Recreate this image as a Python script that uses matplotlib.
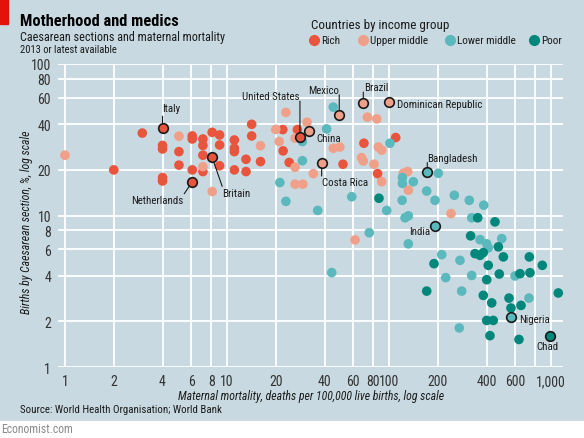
import matplotlib
matplotlib.use('Agg')
import matplotlib.pyplot as plt
from matplotlib import font_manager
from matplotlib.lines import Line2D
from matplotlib.patches import Rectangle
import numpy as np

# data: (maternal mortality per 100k births, caesarean %)
rich_x = [2, 3.0, 4, 4, 4, 4, 5.05, 5.05, 6.1, 6.1, 6.1, 7.1, 7.1, 7.1, 7.1, 8.1, 9.0, 9.0, 9.0,
          11.1, 11.1, 11.1, 11.1, 13.1, 13.1, 14.2, 14.2, 16.1, 22.1, 22.2, 24.2, 27.2, 52, 70, 85, 110]
rich_y = [20, 35, 29, 27.5, 17.8, 16.9, 26.4, 21.5, 33.5, 32, 20, 32, 29, 25, 19.5, 35.4, 34, 29.2, 21.3,
          31.5, 27.8, 26.4, 20, 23.5, 19.5, 40, 33.5, 22.7, 36.9, 26.7, 22.4, 36.9, 21.8, 30, 18.9, 32.7]

upper_x = [1.0, 5.05, 7.1, 8.1, 16.1, 20, 21, 23.1, 26.3, 26.3, 26.3, 29.4, 31.2, 34.1, 45.3, 49.7,
           61.7, 67.6, 69.4, 73.5, 80.8, 84, 85.9, 90.2, 90.2, 122.5, 130.4, 131.6, 241.5]
upper_y = [25, 33.4, 21, 14.4, 28.9, 37, 30.8, 47.9, 20.8, 32.4, 16.1, 16.1, 41.3, 18.9, 27.8, 28.3,
           6.9, 24.1, 22.9, 44.6, 21.8, 43.4, 28.3, 27, 16.7, 19.0, 19.5, 14.7, 10.3]

lower_x = [21.2, 23.1, 29.2, 29.2, 36.3, 41.2, 44.3, 45.3, 58.9, 75.5, 96.8, 101.4, 121, 121, 141.3,
           201.5, 170.9, 192.3, 120.5, 253, 313, 384.5, 324, 125.6, 131.6, 131.6, 364.5, 401, 410,
           496.5, 211.5, 274.3, 223.9, 324, 600, 281, 731, 271.6]
lower_y = [16.5, 12.4, 30.8, 23.0, 10.8, 37.3, 4.2, 51.9, 13.3, 7.7, 10.8, 30, 17.8, 16.3, 16.7,
           19.0, 14.5, 12.6, 12.6, 13.6, 12.6, 11.7, 9.66, 9.66, 9.95, 6.5, 6.93, 6.5, 6.11,
           7.04, 5.52, 5.06, 3.89, 4.02, 3.99, 3.17, 2.85, 1.81]

poor_x = [86.7, 353, 451, 319, 473, 339.6, 364.5, 382, 508, 189.6, 410, 734.7, 883.7, 401, 479.5,
          643.6, 741.6, 170.9, 382, 430.5, 550.5, 566, 653, 1109, 401, 440, 420, 634]
poor_y = [13.0, 9.66, 9.08, 7.34, 6.21, 5.6, 5.46, 5.69, 5.33, 4.81, 4.69, 5.33, 4.69, 3.77, 4.11,
          4.13, 4.19, 3.17, 2.97, 2.65, 2.85, 2.45, 2.55, 3.08, 2.03, 2.03, 1.61, 1.52]

# named countries
label_names = ['Italy', 'Netherlands', 'Britain', 'United States', 'China', 'Mexico', 'Brazil',
               'Dominican Republic', 'Costa Rica', 'Bangladesh', 'India', 'Nigeria', 'Chad']
label_x = [4.0, 6.1, 8.1, 28.2, 32.2, 49.3, 69.4, 100, 38.4, 172.3, 192.3, 564, 985]
label_y = [37.7, 16.7, 24.2, 32.9, 36.2, 46.2, 55.2, 56, 22.2, 19.5, 8.5, 2.13, 1.61]
label_group = ['Rich', 'Rich', 'Rich', 'Rich', 'Upper middle', 'Upper middle', 'Upper middle',
               'Upper middle', 'Upper middle', 'Lower middle', 'Lower middle', 'Lower middle', 'Poor']

groups = ['Rich', 'Upper middle', 'Lower middle', 'Poor']
colours = {'Rich': '#e9553c', 'Upper middle': '#f0a088', 'Lower middle': '#5bb8bd', 'Poor': '#00877c'}

x_ticks = [1, 2, 4, 6, 8, 10, 20, 40, 60, 80, 100, 200, 400, 600, 800, 1000]
x_ticklabels = ['1', '2', '4', '6', '8', '10', '20', '40', '60', '80', '100', '200', '400', '600', '', '1,000']
y_ticks = [1, 2, 4, 6, 8, 10, 20, 40, 60, 80, 100]


def pickFont():
    names = set(f.name for f in font_manager.fontManager.ttflist)
    for name in ['Liberation Sans Narrow', 'Roboto Condensed', 'Open Sans Condensed', 'Roboto']:
        if name in names:
            return name
    return 'DejaVu Sans'


W, H = 584, 439
BG = '#c8d9e1'
TXT = '#1a1a1a'
font = pickFont()
plt.rcParams['font.family'] = font


def fx(px):
    return px / W


def fy(py):
    return 1 - py / H


fig = plt.figure(figsize=(W / 100, H / 100), dpi=100, facecolor=BG)
ax = fig.add_axes([fx(58), fy(368), fx(563) - fx(58), fy(65) - fy(368)])
ax.set_facecolor(BG)
ax.set_xscale('log')
ax.set_yscale('log')
ax.set_xlim(10 ** (-7 / 162), 10 ** (498 / 162))
ax.set_ylim(1, 100)

for v in x_ticks:
    ax.axvline(v, color='white', lw=1.3, zorder=1)
for v in y_ticks:
    ax.axhline(v, color='white', lw=1.3, zorder=1)

ax.set_xticks(x_ticks)
ax.set_xticklabels(x_ticklabels)
ax.set_yticks(y_ticks)
ax.set_yticklabels([str(v) for v in y_ticks])
ax.minorticks_off()
ax.tick_params(length=0, labelsize=10, colors='#333333', pad=5)
for s in ax.spines.values():
    s.set_visible(False)

data = {'Rich': (rich_x, rich_y), 'Upper middle': (upper_x, upper_y),
        'Lower middle': (lower_x, lower_y), 'Poor': (poor_x, poor_y)}
for g in groups:
    ax.scatter(data[g][0], data[g][1], s=48, color=colours[g], edgecolors='none', zorder=3, clip_on=False)

for i, name in enumerate(label_names):
    ax.scatter([label_x[i]], [label_y[i]], s=48, color=colours[label_group[i]], edgecolors='#1a1a1a',
               linewidths=1.2, zorder=4, clip_on=False)

# text offset (px), alignment, leader line end (px) for each named country
label_style = {
    'Italy': ((0, 20), 'left', (0, 12)),
    'Netherlands': ((-9, -18), 'right', (-8, -12)),
    'Britain': ((10, -36), 'left', (10, -29)),
    'United States': ((0, 41), 'right', (0, 36)),
    'China': ((7, -7), 'left', None),
    'Mexico': ((0, 25), 'right', (0, 20)),
    'Brazil': ((1, 16), 'left', (0, 11)),
    'Dominican Republic': ((8, -2), 'left', None),
    'Costa Rica': ((0, -19), 'left', (0, -13)),
    'Bangladesh': ((0, 14), 'left', (0, 9)),
    'India': ((-5, -5), 'right', None),
    'Nigeria': ((8, -2), 'left', None),
    'Chad': ((-2, -10), 'center', None),
}
for i, name in enumerate(label_names):
    off, ha, line = label_style[name]
    ax.annotate(name, (label_x[i], label_y[i]), xytext=off, textcoords='offset pixels',
                ha=ha, va='center', fontsize=7.8, color=TXT, zorder=5)
    if line is not None:
        ax.annotate('', (label_x[i], label_y[i]), xytext=line, textcoords='offset pixels',
                    arrowprops=dict(arrowstyle='-', color=TXT, lw=0.8, shrinkA=0, shrinkB=3.6), zorder=5)

ax.set_xlabel('Maternal mortality, deaths per 100,000 live births, log scale', fontsize=8.5,
              style='italic', color=TXT)
ax.xaxis.set_label_coords((311 - 58) / 505, -0.073)
ax.set_ylabel('Births by Caesarean section, %, log scale', fontsize=8.5, style='italic', color=TXT)
ax.yaxis.set_label_coords(-0.05, (368 - 222) / 303)

# titles
fig.add_artist(Rectangle((0, fy(25)), fx(8), 25 / H, transform=fig.transFigure, color='#e3120b'))
fig.text(fx(20), fy(21), 'Motherhood and medics', fontsize=11.8, fontweight='bold', va='center', color='black')
fig.text(fx(20), fy(37), 'Caesarean sections and maternal mortality', fontsize=8.7, va='center', color=TXT)
fig.text(fx(20), fy(50), '2013 or latest available', fontsize=7.6, va='center', color=TXT)

# legend
fig.text(fx(311), fy(26), 'Countries by income group', fontsize=9.4, va='center', color=TXT)
leg_pos = [(314, 'Rich'), (363, 'Upper middle'), (450, 'Lower middle'), (534, 'Poor')]
for px, g in leg_pos:
    fig.add_artist(Line2D([fx(px)], [fy(41)], marker='o', markersize=7, color=colours[g], lw=0,
                          transform=fig.transFigure))
    fig.text(fx(px + 7), fy(41), g, fontsize=8, va='center', color=TXT)

fig.text(fx(20), fy(410), 'Source: World Health Organisation; World Bank', fontsize=7.8, va='center', color=TXT)
fig.add_artist(Rectangle((0, 0), 1, 17 / H, transform=fig.transFigure, color='white'))
fig.text(fx(1), fy(430), 'Economist.com', fontsize=8.5, va='center', color='#8a8a8a')

fig.savefig('out.png', dpi=100, facecolor=BG)
